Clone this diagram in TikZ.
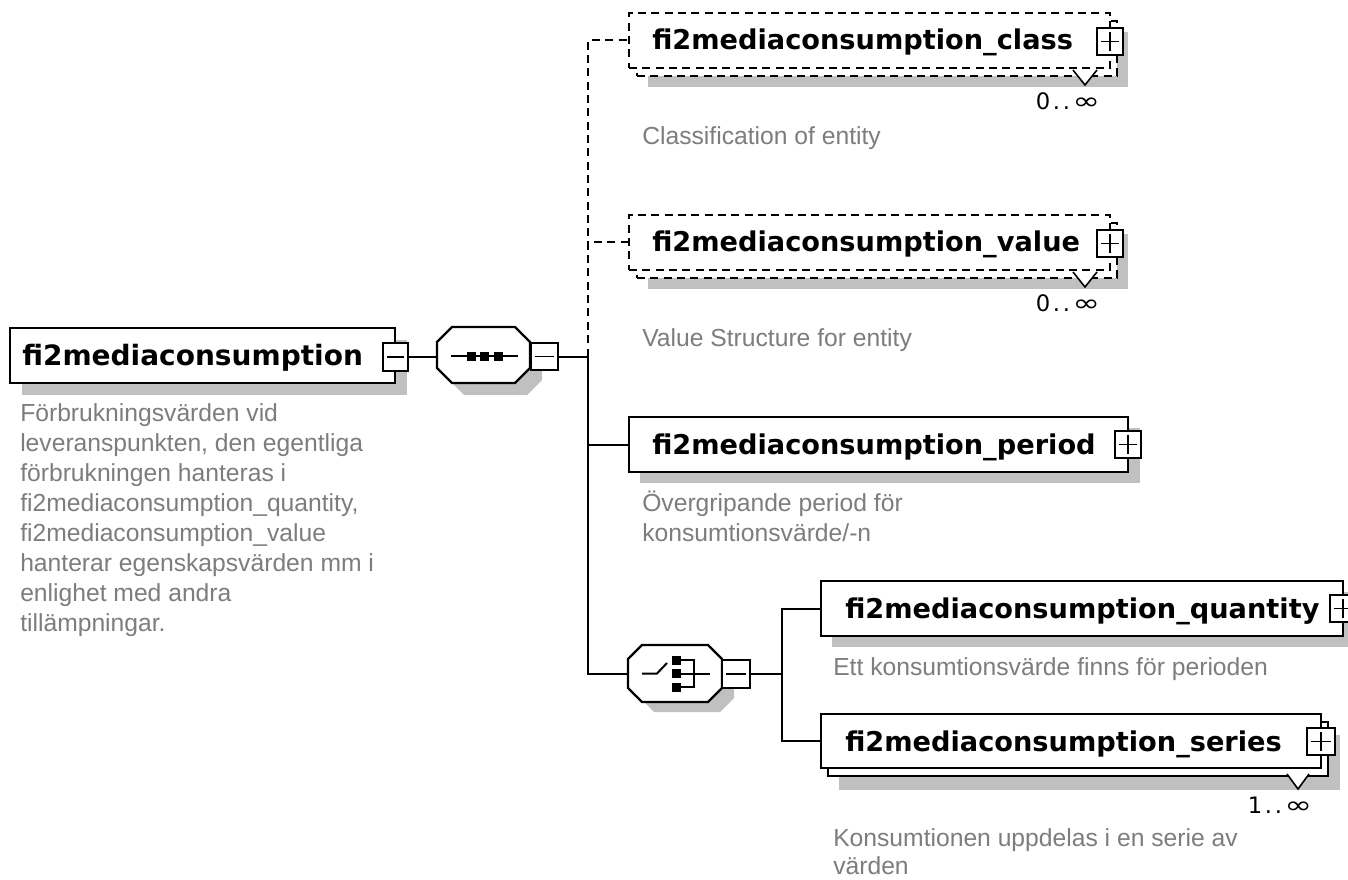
\documentclass[tikz,border=0pt]{standalone}
\usepackage{fontspec}
\setmainfont{Liberation Sans}
\newfontfamily\titlefont{DejaVu Sans}
\newfontfamily\symfont{DejaVu Sans}
\definecolor{descgray}{RGB}{125,125,125}
\definecolor{shadowgray}{RGB}{192,192,192}

% box with exact pixel corners: name, x1, y1, x2, y2, style
\newcommand\schemabox[6]{%
  \node[#6, anchor=north west, inner sep=0pt, outer sep=0pt,
        minimum width={(#4-#2)*0.75pt}, minimum height={(#5-#3)*0.75pt}]
        (#1) at (#2,#3) {};}
% octagon outline: x1, y1, x2, y2, corner cut
\newcommand\octpath[5]{%
  ({#1+#5},#2) -- ({#3-#5},#2) -- (#3,{#2+#5}) -- (#3,{#4-#5}) --
  ({#3-#5},#4) -- ({#1+#5},#4) -- (#1,{#4-#5}) -- (#1,{#2+#5}) -- cycle}

\begin{document}
\begin{tikzpicture}[x=0.75pt,y=-0.75pt,
  elembox/.style={draw,fill=white,line width=1.9pt},
  optbox/.style={elembox,dash pattern=on 6pt off 4pt},
  expbox/.style={draw,fill=white,line width=1.5pt},
  sign/.style={line width=1.3pt},
  conn/.style={line width=1.5pt},
  optconn/.style={conn,dash pattern=on 6pt off 4pt},
  shade/.style={fill=shadowgray},
  title/.style={font=\titlefont\bfseries\fontsize{20.4pt}{24pt}\selectfont,
                inner sep=0pt, anchor=base west},
  desc/.style={font=\fontsize{18.5pt}{22.5pt}\selectfont, text=descgray,
                inner sep=0pt, anchor=base west},
  mult/.style={font=\symfont\fontsize{17pt}{20pt}\selectfont,
               inner sep=0pt, anchor=base},
]
\fill[white] (0,0) rectangle (1348,880);
\useasboundingbox (0,0) rectangle (1348,880);
\clip (0,0) rectangle (1348,880);

% ---------------- root element ----------------
\fill[shade] (22,340) rectangle (407,395);
\schemabox{root}{10}{328}{395}{383}{elembox}
\node[title, font=\titlefont\bfseries\fontsize{21pt}{24pt}\selectfont] (roottitle) at (22,365) {fi2mediaconsumption};
\schemabox{rootx}{383}{343}{408}{371}{expbox}
\draw[sign] (387,357) -- (404,357);
\foreach \t [count=\i] in {Förbrukningsvärden vid,
    {leveranspunkten, den egentliga},
    förbrukningen hanteras i,
    {fi2mediaconsumption\_quantity,},
    fi2mediaconsumption\_value,
    hanterar egenskapsvärden mm i,
    enlighet med andra,
    tillämpningar.}
  \node[desc] (rootdesc\i) at (20,{421+30*(\i-1)}) {\t};

% ---------------- sequence compositor ----------------
\fill[shade] \octpath{449}{339}{542}{395}{15};
\filldraw[fill=white, line width=1.7pt] \octpath{437}{327}{530}{383}{15};
\schemabox{seq}{437}{327}{530}{383}{}
\draw[line width=1.5pt] (451,356) -- (518,356);
\foreach \cx in {471,484,498}
  \fill (\cx-4.5,351.5) rectangle (\cx+4.5,360.5);
\schemabox{seqx}{531}{343}{558}{370}{expbox}
\draw[sign] (535,356.5) -- (554,356.5);

\draw[conn] (rootx.east) -- (rootx.east -| seq.west);
\coordinate (bus1) at (588,356.5);
\draw[conn] (seqx.east) -- (bus1);

% ---------------- optional class element ----------------
\fill[shade] (648,32) rectangle (1128,87);
\schemabox{clsback}{637}{21}{1117}{76}{optbox}
\schemabox{cls}{629}{13}{1110}{68}{optbox}
\node[title] (clstitle) at (652,50) {fi2mediaconsumption\_class};
\schemabox{clsx}{1097}{28}{1123}{55}{expbox}
\draw[sign] (1101,41.5) -- (1119,41.5) (1110,32) -- (1110,51);
\filldraw[fill=white, line width=1.2pt] (1073,70) -- (1085,85) -- (1097,70);
\node[mult] (clsmult) at (1068,110) {0\kern2pt.\kern2pt.\kern2pt\scalebox{1.45}[1.05]{∞}};
\node[desc] (clsdesc) at (642,145) {Classification of entity};

% ---------------- optional value element ----------------
\fill[shade] (648,234) rectangle (1128,289);
\schemabox{valback}{637}{223}{1117}{278}{optbox}
\schemabox{val}{629}{215}{1110}{270}{optbox}
\node[title] (valtitle) at (652,252) {fi2mediaconsumption\_value};
\schemabox{valx}{1097}{230}{1123}{257}{expbox}
\draw[sign] (1101,243.5) -- (1119,243.5) (1110,234) -- (1110,253);
\filldraw[fill=white, line width=1.2pt] (1073,272) -- (1085,287) -- (1097,272);
\node[mult] (valmult) at (1068,312) {0\kern2pt.\kern2pt.\kern2pt\scalebox{1.45}[1.05]{∞}};
\node[desc] (valdesc) at (642,346) {Value Structure for entity};

% ---------------- period element ----------------
\fill[shade] (640,428) rectangle (1140,483);
\schemabox{per}{629}{417}{1128}{472}{elembox}
\node[title] (pertitle) at (652,454) {fi2mediaconsumption\_period};
\schemabox{perx}{1115}{431}{1141}{458}{expbox}
\draw[sign] (1119,444.5) -- (1137,444.5) (1128,435) -- (1128,454);
\node[desc] (perdesc1) at (642,511) {Övergripande period för};
\node[desc] (perdesc2) at (642,541) {konsumtionsvärde/-n};

% ---------------- choice compositor ----------------
\fill[shade] \octpath{640}{656}{734}{712}{14};
\filldraw[fill=white, line width=1.7pt] \octpath{628}{645}{722}{702}{14};
\schemabox{cho}{628}{645}{722}{702}{}
\draw[line width=1.5pt] (642,673.5) -- (657,673.5) -- (667,663);
\foreach \cy in {660,673.5,687}
  \fill (672,\cy-4.5) rectangle (681,\cy+4.5);
\draw[line width=1.5pt] (681,660) -- (694,660) -- (694,687) -- (681,687)
  (681,673.5) -- (710,673.5);
\schemabox{chox}{722}{660}{750}{688}{expbox}
\draw[sign] (726,674) -- (746,674);

% ---------------- quantity element ----------------
\fill[shade] (832,592) rectangle (1360,647);
\schemabox{qty}{821}{581}{1343}{636}{elembox}
\node[title] (qtytitle) at (845,618) {fi2mediaconsumption\_quantity};
\schemabox{qtyx}{1330}{595}{1356}{622}{expbox}
\draw[sign] (1334,608.5) -- (1352,608.5) (1343,599) -- (1343,618);
\node[desc] (qtydesc) at (833,675) {Ett konsumtionsvärde finns för perioden};

% ---------------- series element (repeated) ----------------
\fill[shade] (839,735) rectangle (1340,790);
\schemabox{serback}{828}{722}{1328}{776}{elembox}
\schemabox{ser}{821}{714}{1321}{768}{elembox}
\node[title] (sertitle) at (845,751) {fi2mediaconsumption\_series};
\schemabox{serx}{1307}{728}{1335}{755}{expbox}
\draw[sign] (1311,741.5) -- (1331,741.5) (1321,732) -- (1321,751);
\filldraw[fill=white, line width=1.2pt] (1287,774) -- (1298,789) -- (1309,774);
\node[mult] (sermult) at (1280,813) {1\kern2pt.\kern2pt.\kern2pt\scalebox{1.45}[1.05]{∞}};
\node[desc] (serdesc1) at (833,846) {Konsumtionen uppdelas i en serie av};
\node[desc] (serdesc2) at (833,874) {värden};

% ---------------- connectors ----------------
\draw[optconn] (bus1) |- (cls.west);
\draw[optconn] (bus1) |- (val.west);
\draw[conn] (bus1) |- (per.west);
\draw[conn] (bus1) |- (cho.west);
\coordinate (bus2) at (782,674);
\draw[conn] (chox.east) -- (bus2);
\draw[conn] (bus2) |- (qty.west);
\draw[conn] (bus2) |- (ser.west);
\end{tikzpicture}
\end{document}
